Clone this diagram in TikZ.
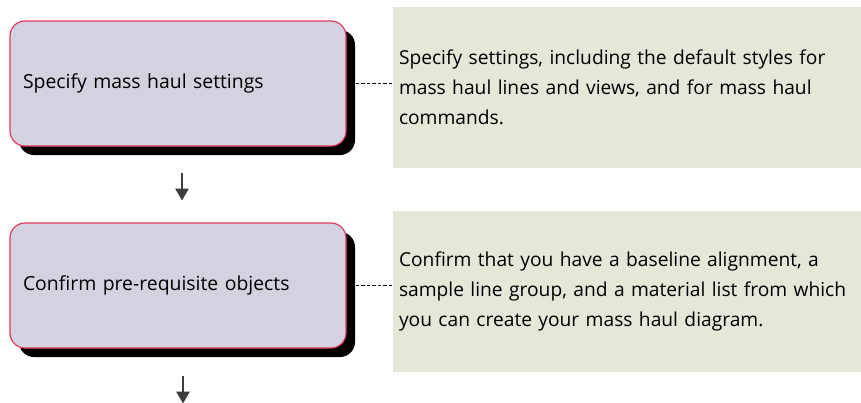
\documentclass[tikz,border=0pt]{standalone}
\usepackage{fontspec}
\setmainfont{Open Sans}
\usepackage{tikz}
\usetikzlibrary{arrows.meta,shadows,positioning}
\definecolor{MHBorder}{HTML}{E23A5E}
\definecolor{MHStep}{HTML}{D3D3DF}
\definecolor{MHNote}{HTML}{E5E7D9}
\definecolor{MHArrow}{HTML}{3D3D3D}

\begin{document}
\begin{tikzpicture}[x=1pt,y=-1pt,
      stepbox/.style={draw=MHBorder,line width=1.2pt,fill=MHStep,rounded corners=15pt,
        minimum width=336pt,minimum height=125pt,text width=310pt,inner xsep=13pt,
        align=left,font=\fontsize{19.4}{22}\selectfont,
        drop shadow={shadow xshift=9pt,shadow yshift=-9pt,opacity=1,fill=black}},
      notebox/.style={fill=MHNote,minimum width=468pt,minimum height=161pt,
        text width=456pt,inner xsep=6pt,align=left,
        font=\fontsize{19.2}{30}\selectfont},
      link/.style={draw=black,line width=0.8pt,dash pattern=on 3.5pt off 2pt},
      flow/.style={draw=MHArrow,line width=2.6pt,-{Triangle[width=13pt,length=12pt]}}
    ]
    \useasboundingbox[fill=white] (0,0) rectangle (861,402);
    \node[stepbox] (spec) at (178,83.5) {Specify mass haul settings};
    \node[notebox] (specnote) at (627,87.5)
      {Specify settings, including the default styles for\\
       mass haul lines and views, and for mass haul\\
       commands.};
    \node[stepbox] (conf) at (178,285.5) {Confirm pre-requisite objects};
    \node[notebox] (confnote) at (627,291)
      {Confirm that you have a baseline alignment, a\\
       sample line group, and a material list from which\\
       you can create your mass haul diagram.};

    \draw[link] ([xshift=9pt]spec.east) -- (specnote.west |- spec.east);
    \draw[link] ([xshift=9pt]conf.east) -- (confnote.west |- conf.east);
    \draw[flow] ([xshift=4pt,yshift=-26pt]spec.south) -- ++(0,28);
    \draw[flow] ([xshift=5pt,yshift=-27pt]conf.south) -- ++(0,28);
\end{tikzpicture}
\end{document}
